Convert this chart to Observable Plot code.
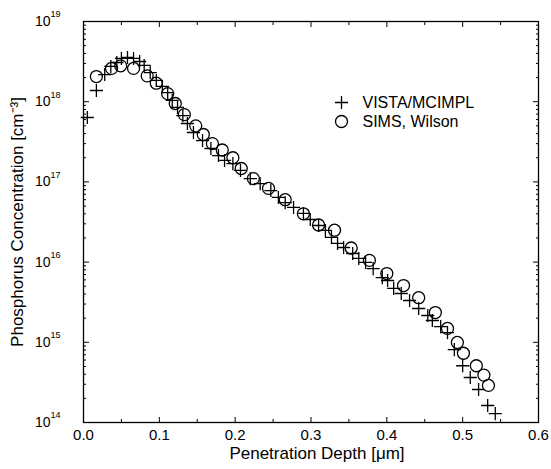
<!DOCTYPE html>
<html><head><meta charset="utf-8">
<script src="https://cdn.jsdelivr.net/npm/d3@7"></script>
<script src="https://cdn.jsdelivr.net/npm/@observablehq/plot@0.6"></script>
<style>body{margin:0;background:#fff}</style>
</head><body><div id="chart"></div>
<script>
// VISTA/MCIMPL simulation (plus markers)
const vistaDepth = [0.005,0.017,0.028,0.036,0.044,0.050,0.058,0.066,0.074,0.080,0.088,0.096,0.104,0.111,0.117,0.124,0.131,0.137,0.145,0.157,0.168,0.178,0.186,0.197,0.207,0.220,0.233,0.247,0.257,0.266,0.277,0.290,0.299,0.310,0.319,0.327,0.335,0.343,0.355,0.363,0.372,0.382,0.394,0.401,0.409,0.419,0.430,0.442,0.454,0.460,0.471,0.480,0.489,0.500,0.510,0.521,0.533,0.543];
const vistaConc = [6.35e17,1.38e18,2.18e18,2.75e18,3.08e18,3.46e18,3.56e18,3.46e18,3.17e18,2.83e18,2.31e18,1.84e18,1.55e18,1.30e18,1.04e18,8.5e17,6.7e17,5.35e17,4.13e17,3.28e17,2.61e17,2.13e17,1.85e17,1.69e17,1.39e17,1.10e17,9.5e16,7.8e16,6.4e16,5.5e16,4.8e16,4.04e16,3.4e16,2.86e16,2.48e16,2.03e16,1.71e16,1.52e16,1.28e16,1.11e16,9.9e15,8.3e15,6.4e15,5.9e15,4.7e15,4.06e15,3.32e15,2.64e15,2.16e15,1.87e15,1.57e15,1.32e15,8.1e14,5.1e14,3.64e14,2.58e14,1.63e14,1.29e14];
// SIMS, Wilson measurement (circle markers)
const simsDepth = [0.017,0.037,0.049,0.066,0.084,0.096,0.111,0.121,0.133,0.148,0.158,0.170,0.183,0.197,0.208,0.224,0.244,0.266,0.290,0.310,0.331,0.353,0.377,0.400,0.422,0.442,0.464,0.480,0.493,0.501,0.518,0.528,0.534];
const simsConc = [2.06e18,2.6e18,2.8e18,2.6e18,2.1e18,1.7e18,1.26e18,9.5e17,6.9e17,5.0e17,3.9e17,3.0e17,2.5e17,2.0e17,1.47e17,1.1e17,8.3e16,6.0e16,4.0e16,2.9e16,2.5e16,1.5e16,1.05e16,7.2e15,5.1e15,3.6e15,2.35e15,1.49e15,9.95e14,7.3e14,5.1e14,3.9e14,2.9e14];

const seriesNames = ["VISTA/MCIMPL", "SIMS, Wilson"];
const xMajorTicks = [0, 0.1, 0.2, 0.3, 0.4, 0.5, 0.6];
const xMinorTicks = [0.05, 0.15, 0.25, 0.35, 0.45, 0.55];
const yMajorTicks = [1e14, 1e15, 1e16, 1e17, 1e18, 1e19];
const yMinorTicks = [14, 15, 16, 17, 18].flatMap(e => [2,3,4,5,6,7,8,9].map(k => k * 10 ** e));
const xTitle = "Penetration Depth [μm]";
const yTitle = "Phosphorus Concentration [cm⁻³]";

const vista = vistaDepth.map((d, i) => ({depth: d, conc: vistaConc[i]}));
const sims = simsDepth.map((d, i) => ({depth: d, conc: simsConc[i]}));

const blank = () => "";
const plusR = 4.3, circleR = 6;
const chart = Plot.plot({
  width: 551, height: 469,
  marginLeft: 83, marginRight: 13, marginTop: 21, marginBottom: 47,
  style: {fontFamily: "'Liberation Sans', Arial, sans-serif", background: "white", color: "black"},
  x: {domain: [0, 0.6], axis: null},
  y: {type: "log", domain: [1e14, 1e19], axis: null},
  marks: [
    // inward ticks on all four sides
    Plot.axisX({anchor: "bottom", ticks: xMajorTicks, tickSize: -5, tickFormat: blank, label: null}),
    Plot.axisX({anchor: "top", ticks: xMajorTicks, tickSize: -5, tickFormat: blank, label: null}),
    Plot.axisX({anchor: "bottom", ticks: xMinorTicks, tickSize: -3, tickFormat: blank, label: null}),
    Plot.axisX({anchor: "top", ticks: xMinorTicks, tickSize: -3, tickFormat: blank, label: null}),
    Plot.axisY({anchor: "left", ticks: yMajorTicks, tickSize: -6, tickFormat: blank, label: null}),
    Plot.axisY({anchor: "right", ticks: yMajorTicks, tickSize: -6, tickFormat: blank, label: null}),
    Plot.axisY({anchor: "left", ticks: yMinorTicks, tickSize: -3, tickFormat: blank, label: null}),
    Plot.axisY({anchor: "right", ticks: yMinorTicks, tickSize: -3, tickFormat: blank, label: null}),
    // tick labels
    Plot.axisX({anchor: "bottom", ticks: xMajorTicks, tickSize: 0, tickPadding: 7, tickFormat: d3.format(".1f"), fontSize: 15, label: null}),
    Plot.axisY({anchor: "left", ticks: yMajorTicks, tickSize: 0, tickPadding: 33, tickFormat: () => "10", fontSize: 14, label: null}),
    Plot.axisY({anchor: "left", ticks: yMajorTicks, tickSize: 0, tickPadding: 23, tickFormat: d => String(Math.round(Math.log10(d))), fontSize: 9, dy: -7, label: null}),
    Plot.frame({stroke: "black", strokeWidth: 1.3}),
    // data
    Plot.dot(vista, {x: "depth", y: "conc", symbol: "plus", r: plusR, stroke: "black", fill: "none", strokeWidth: 1.3}),
    Plot.dot(sims, {x: "depth", y: "conc", symbol: "circle", r: circleR, stroke: "black", fill: "none", strokeWidth: 1.3}),
    // legend
    Plot.dot([seriesNames[0]], {frameAnchor: "top-left", dx: 258, dy: 81, symbol: "plus", r: plusR, stroke: "black", fill: "none", strokeWidth: 1.3}),
    Plot.dot([seriesNames[1]], {frameAnchor: "top-left", dx: 258, dy: 100, symbol: "circle", r: circleR, stroke: "black", fill: "none", strokeWidth: 1.3}),
    Plot.text([seriesNames[0]], {frameAnchor: "top-left", dx: 279, dy: 81, text: d => d, textAnchor: "start", lineAnchor: "middle", fontSize: 16}),
    Plot.text([seriesNames[1]], {frameAnchor: "top-left", dx: 279, dy: 100, text: d => d, textAnchor: "start", lineAnchor: "middle", fontSize: 16}),
    // axis titles
    Plot.text([xTitle], {frameAnchor: "bottom", text: d => d, textAnchor: "middle", lineAnchor: "middle", dx: 6, dy: 31, fontSize: 17}),
    Plot.text([yTitle], {frameAnchor: "left", text: d => d, textAnchor: "middle", lineAnchor: "middle", dx: -66, rotate: -90, fontSize: 17})
  ]
});
document.getElementById("chart").appendChild(chart);
</script>
</body></html>
